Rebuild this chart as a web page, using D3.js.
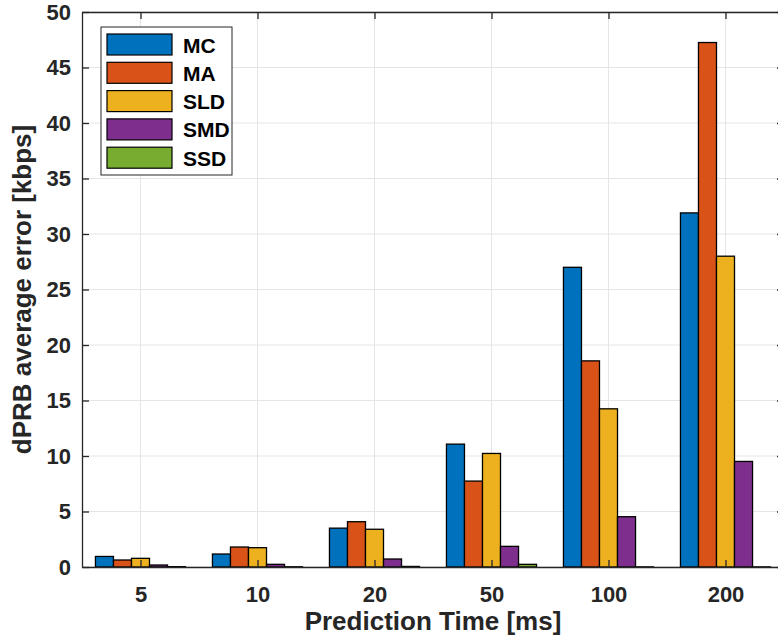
<!DOCTYPE html>
<html>
<head>
<meta charset="utf-8">
<script src="https://cdn.jsdelivr.net/npm/d3@7"></script>
<style>
  body { margin: 0; background: #fff; }
  svg { display: block; font-family: "Liberation Sans", Arial, sans-serif; font-weight: bold; }
</style>
</head>
<body>
<svg id="chart" width="778" height="639"></svg>
<script>
// data
var categories = ["5", "10", "20", "50", "100", "200"];
var seriesNames = ["MC", "MA", "SLD", "SMD", "SSD"];
var MC = [0.95, 1.17, 3.5, 11.07, 27.0, 31.9];
var MA = [0.63, 1.8, 4.08, 7.74, 18.57, 47.25];
var SLD = [0.78, 1.74, 3.4, 10.23, 14.25, 28.0];
var SMD = [0.18, 0.24, 0.72, 1.86, 4.53, 9.51];
var SSD = [0.03, 0.02, 0.05, 0.24, 0.01, 0.01];
var yTicks = [0, 5, 10, 15, 20, 25, 30, 35, 40, 45, 50];
var colors = ["#0072BD", "#D95319", "#EDB120", "#7E2F8E", "#77AC30"];

var series = [MC, MA, SLD, SMD, SSD];

var svg = d3.select("#chart");
var pLeft = 82, pTop = 12, pRight = 784, pBottom = 567;

// x: category index 1..6 within [0.5, 6.5]
var x = d3.scaleLinear().domain([0.5, 6.5]).range([pLeft, pRight]);
var y = d3.scaleLinear().domain([0, 50]).range([pBottom, pTop]);
var barW = x(1.154) - x(1); // width of one bar in px

// clip for the plot area
svg.append("clipPath").attr("id", "clip")
  .append("rect").attr("x", pLeft).attr("y", pTop - 2)
  .attr("width", pRight - pLeft).attr("height", pBottom - pTop + 4);

// grid
var grid = svg.append("g").attr("stroke", "#e5e5e5").attr("stroke-width", 1);
grid.selectAll("line.gy").data(yTicks).enter().append("line")
  .attr("x1", pLeft).attr("x2", pRight)
  .attr("y1", function (d) { return y(d); })
  .attr("y2", function (d) { return y(d); });
grid.selectAll("line.gx").data(categories).enter().append("line")
  .attr("x1", function (d, i) { return x(i + 1); })
  .attr("x2", function (d, i) { return x(i + 1); })
  .attr("y1", pTop).attr("y2", pBottom);

// bars
var bars = svg.append("g").attr("clip-path", "url(#clip)");
series.forEach(function (vals, s) {
  bars.append("g").selectAll("rect").data(vals).enter().append("rect")
    .attr("x", function (d, i) { return x(i + 1) + (s - 2.5) * barW; })
    .attr("y", function (d) { return y(d); })
    .attr("width", barW)
    .attr("height", function (d) { return y(0) - y(d); })
    .attr("fill", colors[s])
    .attr("stroke", "#000")
    .attr("stroke-width", 1.3);
});

// axes
var axCol = "#262626";
var yAxis = d3.axisLeft(y).tickValues(yTicks).tickSizeInner(-7).tickSizeOuter(0).tickPadding(11);
var gy = svg.append("g").attr("transform", "translate(" + pLeft + ",0)").call(yAxis);
var yAxisR = d3.axisRight(y).tickValues(yTicks).tickSizeInner(-7).tickSizeOuter(0).tickFormat("");
var gyr = svg.append("g").attr("transform", "translate(" + pRight + ",0)").call(yAxisR);

var xAxis = d3.axisBottom(x).tickValues([1, 2, 3, 4, 5, 6])
  .tickFormat(function (d) { return categories[d - 1]; })
  .tickSizeInner(-7).tickSizeOuter(0).tickPadding(19);
var gx = svg.append("g").attr("transform", "translate(0," + pBottom + ")").call(xAxis);
var xAxisT = d3.axisTop(x).tickValues([1, 2, 3, 4, 5, 6]).tickSizeInner(-7).tickSizeOuter(0).tickFormat("");
var gxt = svg.append("g").attr("transform", "translate(0," + pTop + ")").call(xAxisT);

[gy, gyr, gx, gxt].forEach(function (g) {
  g.selectAll(".domain").attr("stroke", axCol).attr("stroke-width", 1.3);
  g.selectAll(".tick line").attr("stroke", axCol).attr("stroke-width", 1.3);
  g.selectAll("text").attr("fill", axCol).attr("font-size", 22)
    .attr("font-family", "'Liberation Sans', Arial, sans-serif").attr("font-weight", "bold");
});

// axis titles
svg.append("text").attr("x", 433).attr("y", 630)
  .attr("text-anchor", "middle").attr("font-size", 26).attr("fill", axCol)
  .text("Prediction Time [ms]");
svg.append("text")
  .attr("transform", "translate(31," + (pTop + pBottom) / 2 + ") rotate(-90)")
  .attr("text-anchor", "middle").attr("font-size", 26).attr("fill", axCol)
  .text("dPRB average error [kbps]");

// legend
var lg = svg.append("g").attr("transform", "translate(101,27)");
lg.append("rect").attr("width", 131).attr("height", 148)
  .attr("fill", "#fff").attr("stroke", axCol).attr("stroke-width", 1);
var item = lg.selectAll("g.item").data(seriesNames).enter().append("g")
  .attr("transform", function (d, i) { return "translate(6," + (7 + i * 28.3) + ")"; });
item.append("rect").attr("width", 65).attr("height", 21)
  .attr("fill", function (d, i) { return colors[i]; })
  .attr("stroke", "#000").attr("stroke-width", 1.2);
item.append("text").attr("x", 76).attr("y", 18.5)
  .attr("font-size", 21).attr("fill", "#000").text(function (d) { return d; });
</script>
</body>
</html>
